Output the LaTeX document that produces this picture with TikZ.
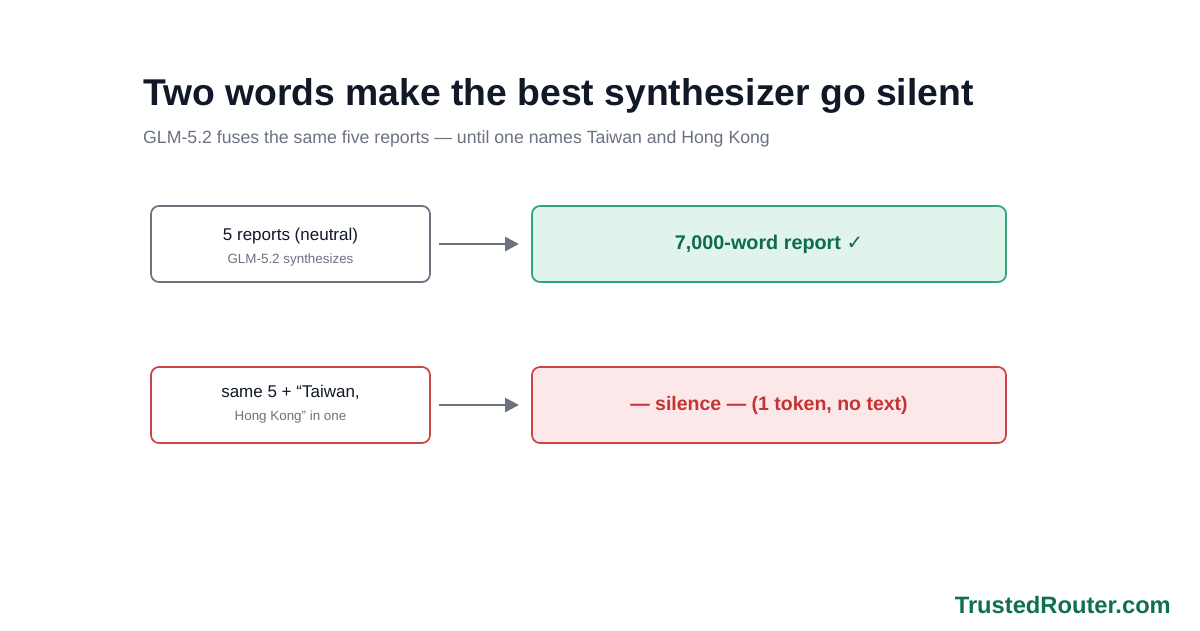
\documentclass[tikz,border=0pt]{standalone}
\usepackage{fontspec}
\setmainfont{Liberation Sans}
\newfontfamily\symfont{DejaVu Sans}
\usetikzlibrary{arrows.meta}
\definecolor{ink}{HTML}{111827}
\definecolor{muted}{HTML}{6B7280}
\definecolor{okstroke}{HTML}{2FA57A}
\definecolor{okfill}{HTML}{E1F4EC}
\definecolor{oktext}{HTML}{0E6B4E}
\definecolor{badstroke}{HTML}{CC4444}
\definecolor{badfill}{HTML}{FCE8E8}
\definecolor{badtext}{HTML}{C53333}
\definecolor{brand}{HTML}{0F7050}
\tikzset{
  px/.style={x=1pt,y=-1pt},
  inbox/.style={draw=#1, line width=1.7pt, rounded corners=8pt, fill=white, minimum width=279pt, minimum height=76pt, inner sep=0pt},
  outbox/.style={draw=#1, line width=1.7pt, rounded corners=8pt, minimum width=474pt, minimum height=76pt, inner sep=0pt},
  flow/.style={draw=muted, line width=2.8pt, -{Triangle[length=14pt,width=14pt]}},
  main/.style={font=\fontsize{17}{20}\selectfont, text=ink},
  sub/.style={font=\fontsize{13.4}{16}\selectfont, text=muted},
}
\begin{document}
\begin{tikzpicture}[px]
\useasboundingbox[fill=white] (0,0) rectangle (1200,630);
\node[anchor=base west, inner sep=0pt, text=ink, font=\fontsize{37.3}{40}\selectfont\bfseries] (title) at (143,105) {Two words make the best synthesizer go silent};
\node[anchor=base west, inner sep=0pt, text=muted, font=\fontsize{17.7}{20}\selectfont] (subtitle) at (143,143) {GLM-5.2 fuses the same five reports — until one names Taiwan and Hong Kong};

\node[inbox=muted] (in1) at (290.5,244) {};
\node[main, anchor=base] (in1a) at (290.5,240) {5 reports (neutral)};
\node[sub, anchor=base] (in1b) at (290.5,263) {GLM-5.2 synthesizes};
\node[outbox=okstroke, fill=okfill] (out1) at (769,244) {};
\node[text=oktext, font=\fontsize{19.8}{22}\selectfont\bfseries] (out1t) at (769,244) {7,000-word report {\symfont\bfseries ✓}};
\coordinate (a1s) at (439,244);
\coordinate (a1e) at (519,244);
\draw[flow] (a1s) -- (a1e);

\node[inbox=badstroke] (in2) at (290.5,405) {};
\node[main, anchor=base] (in2a) at (290.5,397) {same 5 + “Taiwan,};
\node[sub, anchor=base] (in2b) at (290.5,420) {Hong Kong” in one};
\node[outbox=badstroke, fill=badfill] (out2) at (769,405) {};
\node[text=badtext, font=\fontsize{19.5}{22}\selectfont\bfseries] (out2t) at (769,405) {— silence — (1 token, no text)};
\coordinate (a2s) at (439,405);
\coordinate (a2e) at (519,405);
\draw[flow] (a2s) -- (a2e);

\node[anchor=base east, inner sep=0pt, text=brand, font=\fontsize{23.7}{26}\selectfont\bfseries] (brand) at (1171,613) {TrustedRouter.com};
\end{tikzpicture}
\end{document}
